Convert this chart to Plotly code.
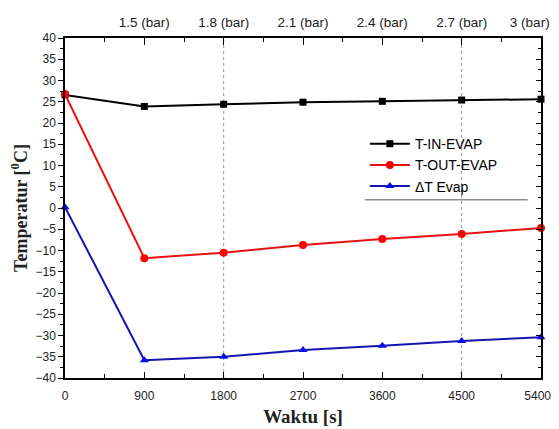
import plotly.graph_objects as go

waktu = [0, 900, 1800, 2700, 3600, 4500, 5400]
t_in = [26.6, 23.9, 24.4, 24.9, 25.1, 25.4, 25.6]
t_out = [26.8, -11.8, -10.5, -8.7, -7.3, -6.1, -4.7]
delta_t = [0.2, -35.8, -35.0, -33.4, -32.4, -31.3, -30.4]

top_ticks = [900, 1800, 2700, 3600, 4500, 5400]
top_labels = ["1.5 (bar)", "1.8 (bar)", "2.1 (bar)", "2.4 (bar)", "2.7 (bar)", "3 (bar)"]
bottom_ticks = [0, 900, 1800, 2700, 3600, 4500, 5400]
y_ticks = list(range(-40, 41, 5))
dotted_lines = [1800, 4500]

# nudge the right-most labels inward so they are not clipped by the window edge
top_text = top_labels[:-1] + [top_labels[-1] + "\u00a0" * 6]
bottom_text = [str(v) for v in bottom_ticks[:-1]] + [str(bottom_ticks[-1]) + "\u00a0\u00a0"]

fig = go.Figure()
fig.add_trace(go.Scatter(x=waktu, y=t_in, name="T-IN-EVAP", mode="lines+markers",
                         line=dict(color="black", width=2),
                         marker=dict(symbol="square", size=7, color="black"), cliponaxis=False))
fig.add_trace(go.Scatter(x=waktu, y=t_out, name="T-OUT-EVAP", mode="lines+markers",
                         line=dict(color="#e81010", width=2),
                         marker=dict(symbol="circle", size=8, color="#ff0000"), cliponaxis=False))
fig.add_trace(go.Scatter(x=waktu, y=delta_t, name="\u0394T Evap", mode="lines+markers",
                         line=dict(color="#1414b0", width=2),
                         marker=dict(symbol="triangle-up", size=8, color="#0a0aee"), cliponaxis=False))
# dummy traces to activate secondary axes
fig.add_trace(go.Scatter(x=[waktu[0], waktu[-1]], y=[None, None], xaxis="x2", showlegend=False, hoverinfo="skip"))
fig.add_trace(go.Scatter(x=[None], y=[y_ticks[0], y_ticks[-1]], yaxis="y2", showlegend=False, hoverinfo="skip"))

for v in dotted_lines:
    fig.add_shape(type="line", xref="x", yref="paper", x0=v, x1=v, y0=0, y1=1,
                  line=dict(color="#999999", width=1, dash="dot"), layer="below")

# legend bottom line
fig.add_shape(type="line", xref="paper", yref="paper", x0=0.63, x1=0.972, y0=0.524, y1=0.524,
              line=dict(color="#555555", width=1))

tickfont = dict(family="Arial, Liberation Sans, sans-serif", size=12, color="#222")

fig.update_layout(
    width=559, height=429,
    margin=dict(l=57, r=26, t=30, b=59),
    plot_bgcolor="white", paper_bgcolor="white",
    showlegend=True,
    legend=dict(x=0.63, y=0.735, xanchor="left", yanchor="top",
                bgcolor="rgba(255,255,255,0)", borderwidth=0,
                font=dict(family="Arial, Liberation Sans, sans-serif", size=14, color="black"),
                tracegroupgap=0, itemwidth=40),
    xaxis=dict(range=[waktu[0], waktu[-1]], tickvals=bottom_ticks, ticktext=bottom_text,
               ticks="inside", ticklen=6,
               tickcolor="black", showgrid=False, zeroline=False, showline=True, linecolor="black",
               linewidth=1.5, tickfont=tickfont, automargin=False, ticklabelstandoff=6,
               ticklabeloverflow="allow",
               minor=dict(dtick=450, tick0=0, ticks="inside", ticklen=4, tickcolor="black"),
               title=dict(text="<b>Waktu [s]</b>", font=dict(family="Times New Roman, Liberation Serif, serif", size=19, color="#222"), standoff=8)),
    xaxis2=dict(range=[waktu[0], waktu[-1]], overlaying="x", side="top", tickvals=top_ticks,
                ticktext=top_text, ticks="inside", ticklen=7, tickcolor="black", showgrid=False,
                zeroline=False, showline=True, linecolor="black", linewidth=1.5, automargin=False,
                ticklabeloverflow="allow", ticklabelstandoff=4,
                tickfont=dict(family="Arial, Liberation Sans, sans-serif", size=13.5, color="#222"),
                minor=dict(dtick=450, tick0=0, ticks="inside", ticklen=4, tickcolor="black")),
    yaxis=dict(range=[y_ticks[0], y_ticks[-1]], tickvals=y_ticks, ticks="outside", ticklen=5,
               tickcolor="black", showgrid=False, zeroline=False, showline=True, linecolor="black",
               linewidth=1.5, tickfont=tickfont, automargin=False,
               minor=dict(dtick=2.5, ticks="outside", ticklen=3, tickcolor="black"),
               title=dict(text="<b>Temperatur [<sup>0</sup>C]</b>", font=dict(family="Times New Roman, Liberation Serif, serif", size=18, color="#222"), standoff=12)),
    yaxis2=dict(range=[y_ticks[0], y_ticks[-1]], overlaying="y", side="right", tickvals=y_ticks,
                ticks="inside", ticklen=5, tickcolor="black", showticklabels=False, showgrid=False,
                zeroline=False, showline=True, linecolor="black", linewidth=1.5, automargin=False,
                minor=dict(dtick=2.5, ticks="inside", ticklen=3, tickcolor="black")),
)

fig.write_html("out.html")
